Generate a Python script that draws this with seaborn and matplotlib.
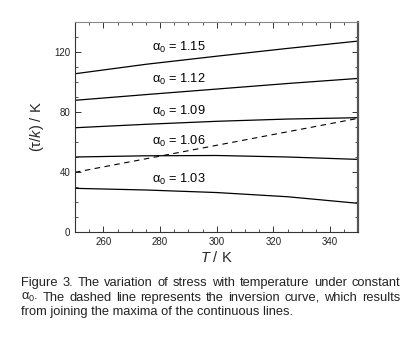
import matplotlib
matplotlib.use("Agg")
import matplotlib.pyplot as plt
import seaborn as sns
import pandas as pd
from matplotlib.ticker import MultipleLocator

# Data
T = [250, 275, 300, 325, 350]
alpha_labels = ["1.15", "1.12", "1.09", "1.06", "1.03"]
s115 = [105.5, 111.8, 117.2, 122.4, 127.3]
s112 = [87.8, 91.6, 95.3, 99.0, 102.4]
s109 = [69.5, 71.8, 73.8, 75.3, 76.2]
s106 = [50.0, 50.8, 51.0, 50.0, 48.4]
s103 = [29.1, 28.0, 26.3, 23.5, 19.1]
inversion = [39.8, 48.8, 57.8, 66.8, 75.8]
label_y = [123, 102, 80.2, 60.2, 34.7]

series = [s115, s112, s109, s106, s103]
rows = []
for lab, vals in zip(alpha_labels, series):
    for t, v in zip(T, vals):
        rows.append({"T": t, "tau": v, "alpha": lab})
df = pd.DataFrame(rows)
dfi = pd.DataFrame({"T": T, "tau": inversion})

sns.set_style("ticks")
plt.rcParams['font.family'] = ['Liberation Sans', 'DejaVu Sans']
plt.rcParams['mathtext.fontset'] = 'custom'
plt.rcParams['mathtext.rm'] = 'Liberation Sans'
plt.rcParams['mathtext.it'] = 'Liberation Sans:italic'
plt.rcParams['mathtext.bf'] = 'Liberation Sans:bold'

fig = plt.figure(figsize=(4.11, 3.37), dpi=100)
ax = fig.add_axes([0.1825, 0.3116, 0.6895, 0.6231])

sns.lineplot(data=df, x="T", y="tau", units="alpha", estimator=None,
             color="black", lw=0.9, ax=ax, legend=False)
sns.lineplot(data=dfi, x="T", y="tau", color="black", lw=0.8,
             linestyle=(0, (5, 4)), ax=ax, legend=False)

for lab, yv in zip(alpha_labels, label_y):
    ax.text(277, yv, r"$\mathregular{\alpha_0}$" + " = " + lab, fontsize=9.2,
            va="center", ha="left", color="black")

ax.set_xlim(250, 350)
ax.set_ylim(0, 140)
ax.set_xticks([260, 280, 300, 320, 340])
ax.xaxis.set_minor_locator(MultipleLocator(5))
ax.yaxis.set_major_locator(MultipleLocator(40))
ax.yaxis.set_minor_locator(MultipleLocator(10))
ax.tick_params(which="both", direction="in", top=True, right=True,
               labelsize=7, color="#333333", labelcolor="#222222")
ax.tick_params(which="major", length=4.5, width=0.7)
ax.tick_params(which="minor", length=2.5, width=0.6)
for side in ["left", "bottom", "top"]:
    ax.spines[side].set_linewidth(0.8)
    ax.spines[side].set_color("#333333")
ax.spines["top"].set_color("#888888")
ax.spines["right"].set_linewidth(1.6)
ax.spines["right"].set_color("#555555")

ax.set_xlabel(r"$T$ / K", fontsize=10.5, labelpad=2)
ax.set_ylabel(r"($\mathregular{\tau}$/$k$) / K", fontsize=10.5, labelpad=6)

cap = [("Figure 3. The variation of stress with temperature under constant", True),
       (r"$\mathregular{\alpha_0}$. The dashed line represents the inversion curve, which results", True),
       ("from joining the maxima of the continuous lines.", False)]
x0, x1 = 21, 400
fs = 9.3
renderer = fig.canvas.get_renderer()
for i, (line, just) in enumerate(cap):
    ypos = 1 - (283 + 14.7 * i) / 337
    words = line.split(" ")
    if not just:
        fig.text(x0 / 411, ypos, line, fontsize=fs, va="center", ha="left",
                 color="#222222")
        continue
    texts = []
    widths = []
    for w in words:
        t = fig.text(0, ypos, w, fontsize=fs, va="center", ha="left",
                     color="#222222")
        widths.append(t.get_window_extent(renderer).width)
        texts.append(t)
    gap = (x1 - x0 - sum(widths)) / (len(words) - 1)
    xc = x0
    for t, wd in zip(texts, widths):
        t.set_x(xc / 411)
        xc += wd + gap

fig.savefig("out.png", dpi=100)
